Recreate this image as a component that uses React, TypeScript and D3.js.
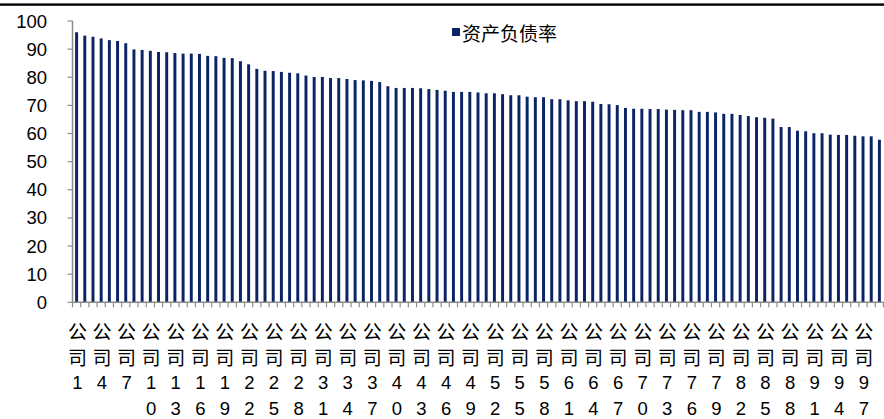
import React from "react";
import * as d3 from "d3";

const categories: string[] = d3.range(1, 100).map((i) => "公司" + i);

const debtRatio: number[] = [
  96.0, 94.8, 94.4, 93.8, 93.2, 92.9, 92.1, 89.9, 89.7, 89.4,
  89.0, 88.9, 88.6, 88.4, 88.4, 88.3, 87.6, 87.5, 86.9, 86.8,
  85.7, 84.6, 83.0, 82.3, 82.2, 81.9, 81.6, 81.4, 80.6, 80.1,
  80.1, 79.7, 79.7, 79.4, 79.0, 78.9, 78.7, 78.3, 76.8, 76.2,
  76.2, 76.2, 76.1, 75.8, 75.5, 75.2, 74.8, 74.8, 74.8, 74.6,
  74.3, 74.3, 74.0, 73.6, 73.6, 73.1, 72.9, 72.9, 72.2, 72.2,
  71.8, 71.5, 71.5, 71.3, 70.5, 70.4, 70.1, 69.1, 68.8, 68.8,
  68.7, 68.7, 68.5, 68.4, 68.3, 68.3, 67.7, 67.7, 67.5, 67.0,
  67.0, 66.6, 66.2, 65.8, 65.6, 65.3, 62.3, 62.3, 61.0, 60.8,
  60.1, 60.1, 59.6, 59.5, 59.5, 59.2, 59.0, 59.0, 57.8,
];

const yTicks: number[] = [0, 10, 20, 30, 40, 50, 60, 70, 80, 90, 100];
const seriesName = "资产负债率";

const W = 884;
const H = 419;
const left = 72.5;
const right = 883.5;
const top = 21;
const bottom = 302.3;

const LATIN = "'Liberation Sans', Arial, sans-serif";
const CJK = "'Noto Sans CJK SC', sans-serif";

export default function App() {
  const x = d3
    .scaleBand<string>()
    .domain(categories)
    .range([left, right])
    .paddingInner(0.64)
    .paddingOuter(0.32);
  const y = d3.scaleLinear().domain([0, 100]).range([bottom, top]);
  const step = x.step();
  const boundaries = d3.range(categories.length + 1).map((i) => left + i * step);
  const barColor = "#0b2466";
  const axisColor = "#8c8c8c";

  return (
    <svg
      width={W}
      height={H}
      style={{ position: "absolute", left: 0, top: 0, background: "#fff" }}
    >
      <rect x={0} y={3.4} width={W} height={2.4} fill="#000" />
      {/* bars */}
      {categories.map((c, i) => (
        <rect
          key={c}
          x={x(c)!}
          y={y(debtRatio[i])}
          width={x.bandwidth()}
          height={y(0) - y(debtRatio[i])}
          fill={barColor}
        />
      ))}
      {/* y axis */}
      <line x1={left} x2={left} y1={top} y2={bottom} stroke={axisColor} strokeWidth={1.5} />
      {yTicks.map((t) => (
        <g key={t}>
          <line x1={left - 5} x2={left} y1={y(t)} y2={y(t)} stroke={axisColor} strokeWidth={1.2} />
          <text
            x={47}
            y={y(t)}
            textAnchor="end"
            dominantBaseline="central"
            fontFamily={LATIN}
            fontSize={18.5}
            fill="#000"
          >
            {t}
          </text>
        </g>
      ))}
      {/* x axis */}
      <line x1={left} x2={right} y1={bottom} y2={bottom} stroke={axisColor} strokeWidth={1.5} />
      {boundaries.map((bx, i) => (
        <line key={i} x1={bx} x2={bx} y1={bottom} y2={bottom + 5} stroke={axisColor} strokeWidth={1.2} />
      ))}
      {categories.map((c, i) => {
        if (i % 3 !== 0) return null;
        const cx = x(c)! + x.bandwidth() / 2 + 0.8;
        const num = String(i + 1).split("");
        return (
          <g key={"l" + c}>
            <text x={cx} y={330} textAnchor="middle" dominantBaseline="central" fontFamily={CJK} fontSize={19}>
              公
            </text>
            <text x={cx} y={356} textAnchor="middle" dominantBaseline="central" fontFamily={CJK} fontSize={19}>
              司
            </text>
            {num.map((d, j) => (
              <text
                key={j}
                x={cx}
                y={382 + j * 26.5}
                textAnchor="middle"
                dominantBaseline="central"
                fontFamily={LATIN}
                fontSize={18.5}
              >
                {d}
              </text>
            ))}
          </g>
        );
      })}
      {/* legend */}
      <rect x={452} y={28} width={8} height={8} fill={barColor} />
      <text x={462} y={32} dominantBaseline="central" fontFamily={CJK} fontSize={19} fill="#000">
        {seriesName}
      </text>
    </svg>
  );
}
